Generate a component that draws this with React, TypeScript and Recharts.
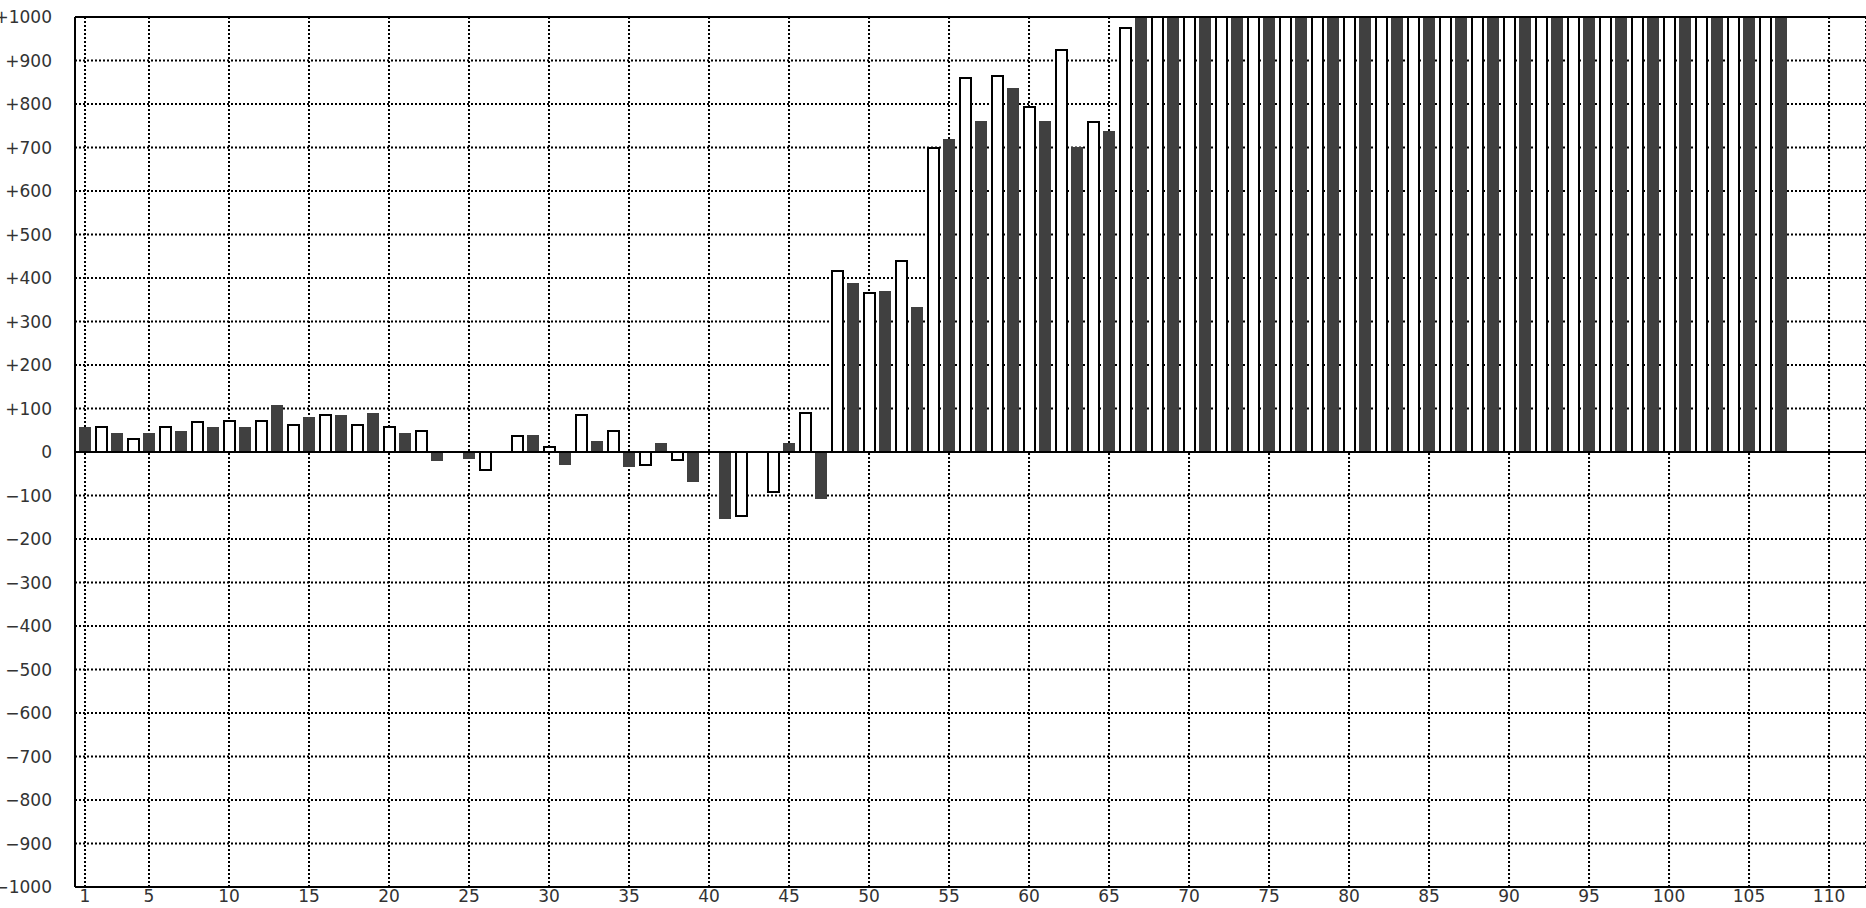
import { Bar, BarChart, CartesianGrid, ReferenceLine, XAxis, YAxis } from "recharts";

// one bar per position, odd positions dark, even positions outlined
const values = [
  57, 58, 43, 30, 43, 58, 48, 68, 57, 72,
  57, 72, 108, 63, 80, 86, 85, 63, 89, 58,
  43, 49, -21, 0, -17, -41, -2, 36, 38, 12,
  -31, 85, 25, 48, -35, -31, 20, -18, -68, 0,
  -155, -147, 0, -91, 20, 90, -109, 417, 389, 366,
  370, 440, 333, 698, 720, 859, 762, 864, 836, 792,
  762, 924, 702, 758, 739, 975, 1000, 1000, 1000, 1000,
  1000, 1000, 1000, 1000, 1000, 1000, 1000, 1000, 1000, 1000,
  1000, 1000, 1000, 1000, 1000, 1000, 1000, 1000, 1000, 1000,
  1000, 1000, 1000, 1000, 1000, 1000, 1000, 1000, 1000, 1000,
  1000, 1000, 1000, 1000, 1000, 1000, 1000,
];

const xTicks = [1, 5, 10, 15, 20, 25, 30, 35, 40, 45, 50, 55, 60, 65, 70, 75, 80, 85, 90, 95, 100, 105, 110];

const yTicks = [
  -1000, -900, -800, -700, -600, -500, -400, -300, -200, -100, 0,
  100, 200, 300, 400, 500, 600, 700, 800, 900, 1000,
];

const data = values.map((value, i) => ({ n: i + 1, value }));

const DARK = "#404040";
const tickStyle = { fontSize: 17, fill: "#333", fontFamily: "DejaVu Sans" };
const gridLine = { stroke: "#000", strokeWidth: 2, strokeDasharray: "2 2", shapeRendering: "crispEdges" };

function fmtY(v: number) {
  if (v > 0) return "+" + v;
  if (v < 0) return "\u2212" + Math.abs(v);
  return "0";
}

function BarShape(props: any) {
  const { x, y, width, height, payload } = props;
  if (!height) return null;
  const top = height < 0 ? y + height : y;
  const h = Math.abs(height);
  if (payload.n % 2 === 1) {
    return <rect x={x} y={top} width={width} height={h} fill={DARK} shapeRendering="crispEdges" />;
  }
  return (
    <rect
      x={x + 0.5}
      y={top}
      width={width - 1}
      height={h}
      fill="#fff"
      stroke="#000"
      strokeWidth={2}
      shapeRendering="crispEdges"
    />
  );
}

export default function App() {
  return (
    <div style={{ position: "absolute", left: 0, top: 0, width: 1866, height: 908, background: "#fff" }}>
      <BarChart width={1866} height={908} data={data} margin={{ top: 17, right: 0, bottom: 0, left: 0 }}>
        <CartesianGrid
          stroke="#000"
          strokeWidth={2}
          strokeDasharray="2 2"
          horizontal={gridLine}
          vertical={gridLine}
        />
        <XAxis
          dataKey="n"
          type="number"
          domain={[0.375, 112.31]}
          allowDataOverflow
          ticks={xTicks}
          interval={0}
          height={21}
          tick={tickStyle}
          tickLine={false}
          tickSize={0}
          tickMargin={3}
          axisLine={{ stroke: "#000", strokeWidth: 2 }}
        />
        <YAxis
          type="number"
          domain={[-1000, 1000]}
          allowDataOverflow
          ticks={yTicks}
          interval={0}
          width={75}
          tick={tickStyle}
          tickFormatter={fmtY}
          tickLine={false}
          tickSize={0}
          tickMargin={23}
          axisLine={{ stroke: "#000", strokeWidth: 2 }}
        />
        <Bar dataKey="value" barSize={12} shape={BarShape} isAnimationActive={false} />
        <ReferenceLine y={0} stroke="#000" strokeWidth={2} />
        <ReferenceLine y={1000} stroke="#000" strokeWidth={2} />
      </BarChart>
    </div>
  );
}
